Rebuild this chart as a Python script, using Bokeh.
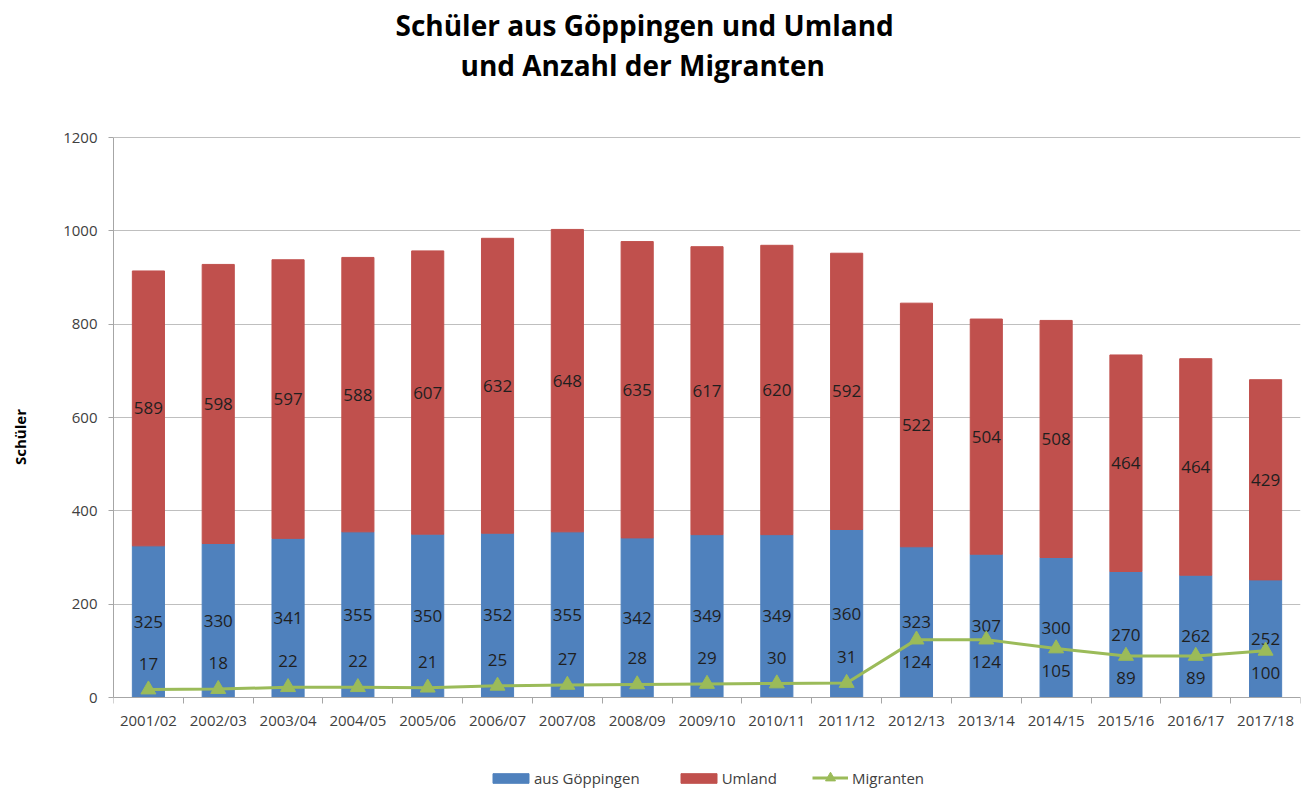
from bokeh.plotting import figure
from bokeh.models import (ColumnDataSource, FixedTicker, Legend, LegendItem, Title, Range1d)
from bokeh.core.properties import value
from bokeh.embed import file_html
from bokeh.resources import INLINE

years = ["2001/02", "2002/03", "2003/04", "2004/05", "2005/06", "2006/07", "2007/08",
         "2008/09", "2009/10", "2010/11", "2011/12", "2012/13", "2013/14", "2014/15",
         "2015/16", "2016/17", "2017/18"]
goeppingen = [325, 330, 341, 355, 350, 352, 355, 342, 349, 349, 360, 323, 307, 300, 270, 262, 252]
umland = [589, 598, 597, 588, 607, 632, 648, 635, 617, 620, 592, 522, 504, 508, 464, 464, 429]
migranten = [17, 18, 22, 22, 21, 25, 27, 28, 29, 30, 31, 124, 124, 105, 89, 89, 100]
y_ticks = [0, 200, 400, 600, 800, 1000, 1200]

BLUE = "#4F81BD"
RED = "#C0504D"
GREEN = "#9BBB59"
FONT = "Open Sans"
TXT = "#1F1F1F"
AX = "#404040"

W, H = 1312, 790
TOP = 83                            # frame top (titles sit just above it)
Y0_PX, Y1200_PX = 697, 137          # pixel rows of y = 0 and y = 1200
ppu = (Y0_PX - Y1200_PX) / 1200.0   # pixels per unit
y_start = -(H - Y0_PX) / ppu
y_end = 1200 + (Y1200_PX - TOP) / ppu

n = len(years)
xs = list(range(1, n + 1))
src = ColumnDataSource(dict(
    x=xs,
    g=goeppingen,
    u=umland,
    m=migranten,
    g_mid=[g / 2 for g in goeppingen],
    u_mid=[g + u / 2 for g, u in zip(goeppingen, umland)],
    g_txt=[str(v) for v in goeppingen],
    u_txt=[str(v) for v in umland],
    m_txt=[str(v) for v in migranten],
    # labels above the marker for the early years, below from 2012/13 on
    m_off=[-26 if i < 11 else 22 for i in range(n)],
))

p = figure(width=W, height=H, x_range=Range1d(0.5, n + 0.5), y_range=Range1d(y_start, y_end),
           output_backend="svg", toolbar_location=None,
           min_border_left=113, min_border_right=12, min_border_top=TOP, min_border_bottom=0)
p.outline_line_color = None
p.background_fill_color = "white"

bars = p.vbar_stack(["g", "u"], x="x", width=0.46, color=[BLUE, RED], source=src)

p.text(x="x", y="g_mid", text="g_txt", source=src, text_align="center", text_baseline="middle",
       text_font=value(FONT), text_font_size="17px", text_color=TXT)
p.text(x="x", y="u_mid", text="u_txt", source=src, text_align="center", text_baseline="middle",
       text_font=value(FONT), text_font_size="17px", text_color=TXT)

ln = p.line(x="x", y="m", source=src, line_color=GREEN, line_width=3)
sc = p.scatter(x="x", y="m", source=src, marker="triangle", size=15, fill_color=GREEN, line_color=GREEN)
p.text(x="x", y="m", text="m_txt", source=src, y_offset="m_off", text_align="center",
       text_baseline="middle", text_font=value(FONT), text_font_size="17px", text_color=TXT)

# axes
p.xgrid.visible = False
p.ygrid.grid_line_color = "#BFBFBF"
p.ygrid.grid_line_width = 1
p.yaxis.ticker = FixedTicker(ticks=y_ticks)
p.yaxis.bounds = (0, 1200)
p.yaxis.axis_line_color = "#A6A6A6"
p.yaxis.major_tick_line_color = "#A6A6A6"
p.yaxis.major_tick_out = 5
p.yaxis.major_tick_in = 0
p.yaxis.minor_tick_line_color = None
p.yaxis.major_label_standoff = 11
p.yaxis.major_label_text_font = FONT
p.yaxis.major_label_text_font_size = "15px"
p.yaxis.major_label_text_color = AX
p.yaxis.axis_label = "Schüler"
p.yaxis.axis_label_text_font = FONT
p.yaxis.axis_label_text_font_size = "15px"
p.yaxis.axis_label_text_font_style = "bold"
p.yaxis.axis_label_text_color = "#000000"
p.yaxis.axis_label_text_align = "left"
p.yaxis.axis_label_standoff = 30

p.xaxis.fixed_location = 0
p.xaxis.ticker = FixedTicker(ticks=xs, minor_ticks=[i + 0.5 for i in range(n + 1)])
p.xaxis.major_label_overrides = {x: y for x, y in zip(xs, years)}
p.xaxis.axis_line_color = "#A6A6A6"
p.xaxis.major_tick_line_color = None
p.xaxis.major_tick_out = 0
p.xaxis.major_tick_in = 0
p.xaxis.minor_tick_line_color = "#A6A6A6"
p.xaxis.minor_tick_out = 6
p.xaxis.minor_tick_in = 0
p.xaxis.major_label_standoff = 6
p.xaxis.major_label_text_font = FONT
p.xaxis.major_label_text_font_size = "15px"
p.xaxis.major_label_text_color = AX

# titles (second line added first: it sits closest to the plot)
p.add_layout(Title(text="und Anzahl der Migranten", align="left", text_font=FONT,
                   text_font_size="28px", text_font_style="bold", text_color="#000000",
                   offset=347, standoff=0), "above")
p.add_layout(Title(text="Schüler aus Göppingen und Umland", align="left", text_font=FONT,
                   text_font_size="28px", text_font_style="bold", text_color="#000000",
                   offset=282, standoff=0), "above")


def style_legend(lg, gw, gh):
    lg.border_line_color = None
    lg.background_fill_alpha = 0
    lg.label_text_font = FONT
    lg.label_text_font_size = "15px"
    lg.label_text_color = AX
    lg.glyph_width = gw
    lg.glyph_height = gh
    lg.spacing = 36
    lg.label_standoff = 1
    lg.padding = 0
    lg.margin = 0


legend_bars = Legend(items=[
    LegendItem(label="aus Göppingen", renderers=[bars[0]]),
    LegendItem(label="Umland", renderers=[bars[1]]),
], orientation="horizontal", location=(375, 2))
style_legend(legend_bars, 45, 12)
p.add_layout(legend_bars, "center")

legend_line = Legend(items=[
    LegendItem(label="Migranten", renderers=[ln, sc]),
], orientation="horizontal", location=(699, 0))
style_legend(legend_line, 36, 25)
legend_line.label_standoff = 4
p.add_layout(legend_line, "center")

open("out.html", "w").write(file_html(p, INLINE))
